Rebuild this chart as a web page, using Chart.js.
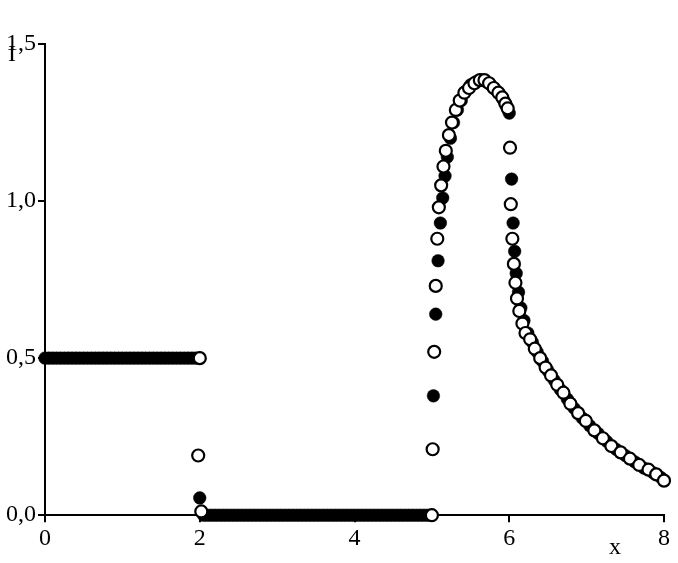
<!DOCTYPE html>
<html><head><meta charset="utf-8">
<script src="https://cdn.jsdelivr.net/npm/chart.js@4"></script>
<style>
html,body{margin:0;padding:0;background:#fff;}
#wrap{position:relative;width:678px;height:563px;}
.lbl{position:absolute;font-family:"Liberation Serif",serif;font-size:24px;color:#000;}
</style></head><body>
<div id="wrap"><canvas id="c" width="678" height="563"></canvas>
<span class="lbl" style="left:8px;top:40px;">I</span>
<span class="lbl" style="left:609px;top:533px;">x</span>
</div>
<script>
const xTicks = [0, 2, 4, 6, 8];
const yTicks = [0, 0.5, 1.0, 1.5];
const filledX = [0,0.05,0.1,0.15,0.2,0.25,0.3,0.35,0.4,0.45,0.5,0.55,0.6,0.65,0.7,0.75,0.8,0.85,0.9,0.95,1.0,1.05,1.1,1.15,1.2,1.25,1.3,1.35,1.4,1.45,1.5,1.55,1.6,1.65,1.7,1.75,1.8,1.85,1.9,1.95,2.0,
  2.0,
  2.05,2.1,2.15,2.2,2.25,2.3,2.35,2.4,2.45,2.5,2.55,2.6,2.65,2.7,2.75,2.8,2.85,2.9,2.95,3.0,3.05,3.1,3.15,3.2,3.25,3.3,3.35,3.4,3.45,3.5,3.55,3.6,3.65,3.7,3.75,3.8,3.85,3.9,3.95,4.0,4.05,4.1,4.15,4.2,4.25,4.3,4.35,4.4,4.45,4.5,4.55,4.6,4.65,4.7,4.75,4.8,4.85,4.9,4.95,5.0,
  5.02,5.05,5.08,5.11,5.14,5.17,5.2,5.24,5.28,5.33,5.38,5.44,5.5,5.57,5.64,5.7,5.76,5.82,5.88,5.93,5.97,6.0,
  6.03,6.05,6.07,6.09,6.12,6.15,6.19,6.24,6.3,6.36,6.43,6.5,6.58,6.66,6.75,6.84,6.94,7.04,7.15,7.26,7.38,7.5,7.62,7.74,7.86,7.96];
const filledY = [0.5,0.5,0.5,0.5,0.5,0.5,0.5,0.5,0.5,0.5,0.5,0.5,0.5,0.5,0.5,0.5,0.5,0.5,0.5,0.5,0.5,0.5,0.5,0.5,0.5,0.5,0.5,0.5,0.5,0.5,0.5,0.5,0.5,0.5,0.5,0.5,0.5,0.5,0.5,0.5,0.5,
  0.055,
  0,0,0,0,0,0,0,0,0,0,0,0,0,0,0,0,0,0,0,0,0,0,0,0,0,0,0,0,0,0,0,0,0,0,0,0,0,0,0,0,0,0,0,0,0,0,0,0,0,0,0,0,0,0,0,0,0,0,0,0,
  0.38,0.64,0.81,0.93,1.01,1.08,1.14,1.2,1.25,1.29,1.32,1.35,1.37,1.38,1.385,1.38,1.37,1.355,1.34,1.32,1.30,1.28,
  1.07,0.93,0.84,0.77,0.71,0.66,0.62,0.58,0.55,0.52,0.49,0.46,0.43,0.40,0.37,0.34,0.31,0.285,0.26,0.235,0.21,0.19,0.17,0.15,0.135,0.12];
const openX = [2.0,1.98,2.02,5.0,5.01,5.03,5.05,5.07,5.09,5.12,5.15,5.18,5.22,5.26,5.31,5.36,5.42,5.48,5.55,5.62,5.68,5.74,5.8,5.86,5.91,5.95,5.98,
  6.01,6.02,6.04,6.06,6.08,6.1,6.13,6.17,6.21,6.27,6.33,6.4,6.47,6.54,6.62,6.7,6.79,6.89,6.99,7.1,7.21,7.32,7.44,7.56,7.68,7.8,7.9,8.0];
const openY = [0.5,0.19,0.012,0.0,0.21,0.52,0.73,0.88,0.98,1.05,1.11,1.16,1.21,1.25,1.29,1.32,1.345,1.36,1.375,1.385,1.385,1.375,1.36,1.345,1.33,1.31,1.295,
  1.17,0.99,0.88,0.80,0.74,0.69,0.65,0.61,0.58,0.56,0.53,0.50,0.47,0.445,0.415,0.39,0.355,0.325,0.30,0.27,0.245,0.22,0.20,0.18,0.16,0.145,0.13,0.11];

const toPts = (xs, ys) => xs.map((x, i) => ({x: x, y: ys[i]}));
const font = {family: '"Liberation Serif", serif', size: 24};
new Chart(document.getElementById('c'), {
  type: 'scatter',
  data: {datasets: [
    {data: toPts(openX, openY), pointRadius: 6, pointBackgroundColor: '#fff', pointBorderColor: '#000', pointBorderWidth: 2.2, order: 0, clip: false},
    {data: toPts(filledX, filledY), pointRadius: 6.3, pointBackgroundColor: '#000', pointBorderColor: '#000', pointBorderWidth: 0.5, order: 1, clip: false}
  ]},
  options: {
    responsive: false, animation: false,
    layout: {padding: {left: 4, right: 14, top: 44, bottom: 8}},
    plugins: {legend: {display: false}, tooltip: {enabled: false}},
    scales: {
      x: {type: 'linear', min: 0, max: 8,
        afterBuildTicks: a => { a.ticks = xTicks.map(v => ({value: v})); },
        ticks: {color: '#000', font: font, padding: 2, maxRotation: 0, callback: v => String(v)},
        grid: {display: true, drawOnChartArea: false, tickLength: 7, color: '#000', lineWidth: 2},
        border: {color: '#000', width: 2}},
      y: {type: 'linear', min: 0, max: 1.5,
        afterBuildTicks: a => { a.ticks = yTicks.map(v => ({value: v})); },
        ticks: {color: '#000', font: font, padding: 2, callback: v => v.toFixed(1).replace('.', ',')},
        grid: {display: true, drawOnChartArea: false, tickLength: 7, color: '#000', lineWidth: 2},
        border: {color: '#000', width: 2}}
    }
  }
});
</script>
</body></html>
